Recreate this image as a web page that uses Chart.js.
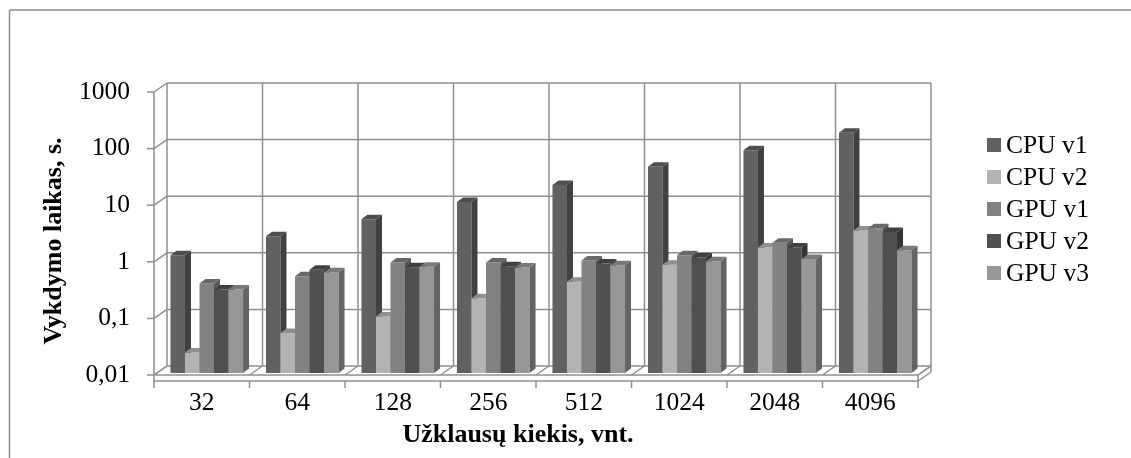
<!DOCTYPE html>
<html>
<head>
<meta charset="utf-8">
<script src="https://cdn.jsdelivr.net/npm/chart.js@4.4.1/dist/chart.umd.min.js"></script>
<style>
  html, body { margin: 0; padding: 0; background: #ffffff; }
  #wrap { width: 1131px; height: 458px; position: relative; }
</style>
</head>
<body>
<div id="wrap"><canvas id="chart" width="1131" height="458"></canvas></div>
<script>
// Request counts on the category axis
const categories = ['32', '64', '128', '256', '512', '1024', '2048', '4096'];

// Execution time, seconds
const cpuV1 = [1.2, 2.6, 5.2, 10.5, 21, 44, 86, 175];
const cpuV2 = [0.023, 0.051, 0.1, 0.21, 0.41, 0.82, 1.65, 3.3];
const gpuV1 = [0.38, 0.51, 0.9, 0.9, 0.97, 1.2, 2.0, 3.6];
const gpuV2 = [0.3, 0.67, 0.74, 0.77, 0.86, 1.1, 1.65, 3.1];
const gpuV3 = [0.3, 0.6, 0.75, 0.73, 0.8, 0.94, 1.03, 1.48];

const seriesNames = ['CPU v1', 'CPU v2', 'GPU v1', 'GPU v2', 'GPU v3'];
const seriesValues = [cpuV1, cpuV2, gpuV1, gpuV2, gpuV3];
const seriesColors = ['#616161', '#b3b3b3', '#828282', '#505050', '#979797'];

// Decade ticks of the log axis and their labels (decimal comma)
const yTickValues = [0.01, 0.1, 1, 10, 100, 1000];
const yTickLabels = ['0,01', '0,1', '1', '10', '100', '1000'];

const xAxisTitle = 'Užklausų kiekis, vnt.';
const yAxisTitle = 'Vykdymo laikas, s.';

const FONT = '"Liberation Serif", "Times New Roman", serif';
const GRID = '#8f8f8f';

// Oblique depth offsets of the pseudo-3D box
const WALL_DX = 13, WALL_DY = -9;   // front plane -> back wall
const BAR_DX = 5, BAR_DY = -2;      // front plane -> bar plane
const BAR_SX = 6, BAR_SY = -4.5;    // bar thickness (side/top faces)
const SLAB = 6;                      // floor thickness

function shade(hex, f) {
  const n = parseInt(hex.slice(1), 16);
  const r = Math.round(((n >> 16) & 255) * f);
  const g = Math.round(((n >> 8) & 255) * f);
  const b = Math.round((n & 255) * f);
  return 'rgb(' + r + ',' + g + ',' + b + ')';
}

function poly(ctx, pts, fill, stroke) {
  ctx.beginPath();
  ctx.moveTo(pts[0][0], pts[0][1]);
  for (let i = 1; i < pts.length; i++) ctx.lineTo(pts[i][0], pts[i][1]);
  ctx.closePath();
  if (fill) { ctx.fillStyle = fill; ctx.fill(); }
  if (stroke) { ctx.strokeStyle = stroke; ctx.stroke(); }
}

function line(ctx, x1, y1, x2, y2) {
  ctx.beginPath();
  ctx.moveTo(x1, y1);
  ctx.lineTo(x2, y2);
  ctx.stroke();
}

const box3d = {
  id: 'box3d',
  beforeDraw(chart) {
    // outer chart frame (top and left edges)
    const ctx = chart.ctx;
    ctx.save();
    ctx.strokeStyle = '#8c8c8c';
    ctx.lineWidth = 1.5;
    line(ctx, 9.5, 10, chart.width, 10);
    line(ctx, 9.5, 10, 9.5, chart.height);
    ctx.restore();
  },
  beforeDatasetsDraw(chart) {
    const ctx = chart.ctx;
    const ys = chart.scales.y;
    const L = chart.chartArea.left, R = chart.chartArea.right;
    const T = chart.chartArea.top, B = chart.chartArea.bottom;
    const n = categories.length;
    const cw = (R - L) / n;
    ctx.save();
    ctx.strokeStyle = GRID;
    ctx.lineWidth = 1.5;

    // floor slab
    poly(ctx, [[L, B], [R, B], [R + WALL_DX, B + WALL_DY], [L + WALL_DX, B + WALL_DY]], '#ffffff', null);
    line(ctx, L, B, R, B);
    line(ctx, L, B + SLAB, R, B + SLAB);
    line(ctx, R, B, R, B + SLAB);
    line(ctx, R, B, R + WALL_DX, B + WALL_DY);
    line(ctx, R, B + SLAB, R + WALL_DX, B + SLAB + WALL_DY);
    line(ctx, R + WALL_DX, B + WALL_DY, R + WALL_DX, B + SLAB + WALL_DY);

    // back wall: horizontal decade lines and side-wall diagonals, tick marks
    yTickValues.forEach(v => {
      const y = ys.getPixelForValue(v);
      line(ctx, L + WALL_DX, y + WALL_DY, R + WALL_DX, y + WALL_DY);
      line(ctx, L, y, L + WALL_DX, y + WALL_DY);
      line(ctx, L - 7, y, L, y);
    });

    // back wall verticals at category boundaries, floor diagonals, category ticks
    for (let k = 0; k <= n; k++) {
      const x = L + k * cw;
      line(ctx, x + WALL_DX, T + WALL_DY, x + WALL_DX, B + WALL_DY);
      line(ctx, x, B, x + WALL_DX, B + WALL_DY);
      line(ctx, x, B + SLAB, x, B + SLAB + 7);
    }
    // front edge of the side wall (value axis line)
    line(ctx, L, T, L, B + SLAB);
    ctx.restore();
  },
  // The default pass paints the last series first; the columns are
  // painted here left to right instead, so each column's side face is
  // hidden behind its right-hand neighbour.
  beforeDatasetDraw() {
    return false;
  },
  afterDatasetsDraw(chart) {
    const ctx = chart.ctx;
    for (let i = 0; i < chart.data.datasets.length; i++) {
      const meta = chart.getDatasetMeta(i);
      if (!meta.visible) continue;
      const color = seriesColors[i];
      ctx.save();
      ctx.translate(BAR_DX, BAR_DY);
      meta.controller.draw();
      meta.data.forEach(el => {
        const p = el.getProps(['x', 'y', 'base', 'width'], true);
        const x1 = p.x - p.width / 2, x2 = p.x + p.width / 2;
        const yt = p.y, yb = p.base;
        // right side face
        poly(ctx, [[x2, yt], [x2 + BAR_SX, yt + BAR_SY], [x2 + BAR_SX, yb + BAR_SY], [x2, yb]], shade(color, 0.66), null);
        // top face
        poly(ctx, [[x1, yt], [x2, yt], [x2 + BAR_SX, yt + BAR_SY], [x1 + BAR_SX, yt + BAR_SY]], shade(color, 0.8), null);
      });
      ctx.restore();
    }
  },
  afterDraw(chart) {
    const ctx = chart.ctx;
    ctx.save();
    // axis titles
    ctx.fillStyle = '#000000';
    ctx.font = 'bold 26px ' + FONT;
    ctx.textAlign = 'center';
    ctx.textBaseline = 'middle';
    ctx.fillText(xAxisTitle, 518, 435);
    ctx.save();
    ctx.translate(54, 241);
    ctx.rotate(-Math.PI / 2);
    ctx.fillText(yAxisTitle, 0, 0);
    ctx.restore();

    // legend
    ctx.font = '25.5px ' + FONT;
    ctx.textAlign = 'left';
    seriesNames.forEach((name, i) => {
      const cy = 145 + i * 32;
      ctx.fillStyle = seriesColors[i];
      ctx.fillRect(987, cy - 7, 14, 14);
      ctx.fillStyle = '#000000';
      ctx.fillText(name, 1006, cy + 1);
    });
    ctx.restore();
  }
};

const datasets = seriesNames.map((name, i) => ({
  label: name,
  data: seriesValues[i],
  backgroundColor: seriesColors[i],
  borderWidth: 0,
  barPercentage: 1.0,
  categoryPercentage: 0.76
}));

new Chart(document.getElementById('chart'), {
  type: 'bar',
  data: { labels: categories, datasets },
  plugins: [box3d],
  options: {
    responsive: false,
    animation: false,
    devicePixelRatio: 1,
    layout: { padding: { left: 10, top: 92, right: 213, bottom: 0 } },
    plugins: { legend: { display: false }, tooltip: { enabled: false } },
    scales: {
      x: {
        type: 'category',
        offset: true,
        grid: { display: false, drawTicks: false },
        border: { display: false },
        ticks: { color: '#000000', font: { family: FONT, size: 25.5 }, padding: 13, maxRotation: 0, autoSkip: false },
        title: { display: false },
        afterFit(scale) { scale.height = 83; }
      },
      y: {
        type: 'logarithmic',
        min: 0.01,
        max: 1000,
        grid: { display: false, drawTicks: false },
        border: { display: false },
        afterBuildTicks(scale) { scale.ticks = yTickValues.map(v => ({ value: v })); },
        ticks: {
          color: '#000000',
          font: { family: FONT, size: 25.5 },
          padding: 24,
          callback(value) {
            const i = yTickValues.findIndex(t => Math.abs(t - value) < t * 1e-6);
            return i >= 0 ? yTickLabels[i] : '';
          }
        },
        title: { display: false },
        afterFit(scale) { scale.width = 144; }
      }
    }
  }
});
</script>
</body>
</html>
